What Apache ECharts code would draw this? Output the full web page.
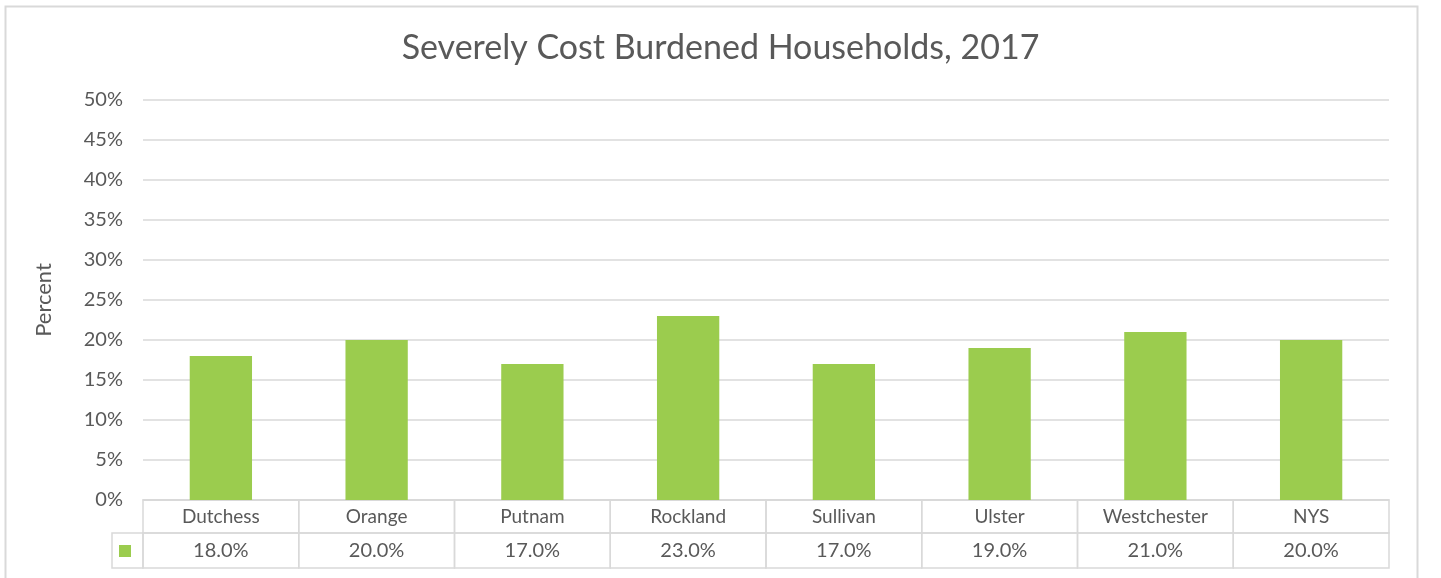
<!DOCTYPE html>
<html>
<head>
<meta charset="utf-8">
<script src="https://cdn.jsdelivr.net/npm/echarts@6/dist/echarts.min.js"></script>
<style>
html,body{margin:0;padding:0;background:#fff;}
#c{width:1441px;height:578px;}
</style>
</head>
<body>
<div id="c"></div>
<script>
const categories = ["Dutchess", "Orange", "Putnam", "Rockland", "Sullivan", "Ulster", "Westchester", "NYS"];
const values = [18.0, 20.0, 17.0, 23.0, 17.0, 19.0, 21.0, 20.0];
const yTicks = [0, 5, 10, 15, 20, 25, 30, 35, 40, 45, 50];
const seriesName = "Severely Cost Burdened Households";
const titleText = "Severely Cost Burdened Households, 2017";

const FONT = "Lato";
const TXT = "#595959";
const LINE = "#d9d9d9";
const GREEN = "#9BCC4E";
const gridLeft = 143, gridRight = 52, gridTop = 100, gridBottom = 78;
const catW = (1441 - gridLeft - gridRight) / categories.length;
const rowH = 33;

const chart = echarts.init(document.getElementById('c'), null, {renderer: 'canvas'});
chart.setOption({
  animation: false,
  backgroundColor: '#fff',
  title: {
    text: titleText,
    left: 'center',
    top: 26,
    textStyle: {fontFamily: FONT, fontSize: 34, fontWeight: 'normal', color: TXT}
  },
  legend: {
    show: true,
    data: [seriesName],
    left: 119,
    top: 545,
    padding: 0,
    icon: 'rect',
    itemWidth: 12,
    itemHeight: 12,
    formatter: () => '',
    itemGap: 0
  },
  grid: {left: gridLeft, right: gridRight, top: gridTop, bottom: gridBottom, containLabel: false},
  xAxis: [{
    type: 'category',
    data: categories,
    position: 'bottom',
    axisLine: {show: true, lineStyle: {color: LINE, width: 1.5}},
    axisTick: {show: false},
    axisLabel: {
      margin: 0,
      interval: 0,
      fontFamily: FONT, fontSize: 19, color: TXT,
      width: catW, height: rowH, lineHeight: rowH,
      align: 'center', verticalAlign: 'top',
      borderColor: LINE, borderWidth: 1.5
    }
  }, {
    type: 'category',
    data: categories,
    position: 'bottom',
    offset: rowH,
    axisLine: {show: false},
    axisTick: {show: false},
    axisLabel: {
      margin: 0,
      interval: 0,
      fontFamily: FONT, fontSize: 20, color: TXT,
      width: catW, height: rowH + 2, lineHeight: rowH + 2,
      align: 'center', verticalAlign: 'top',
      borderColor: LINE, borderWidth: 1.5,
      formatter: (v, i) => values[i].toFixed(1) + '%'
    }
  }],
  yAxis: {
    type: 'value',
    min: yTicks[0],
    max: yTicks[yTicks.length - 1],
    interval: yTicks[1] - yTicks[0],
    name: 'Percent',
    nameLocation: 'middle',
    nameGap: 88,
    nameRotate: 90,
    nameTextStyle: {fontFamily: FONT, fontSize: 22, color: TXT},
    axisLine: {show: false},
    axisTick: {show: false},
    axisLabel: {margin: 20, fontFamily: FONT, fontSize: 20, color: TXT, formatter: v => v + '%'},
    splitLine: {lineStyle: {color: LINE, width: 1.5}}
  },
  series: [{
    name: seriesName,
    type: 'bar',
    xAxisIndex: 0,
    data: values,
    barWidth: '40%',
    itemStyle: {color: GREEN}
  }],
  graphic: [{
    type: 'rect',
    shape: {x: 5.5, y: 6.5, width: 1412, height: 600},
    style: {fill: 'none', stroke: LINE, lineWidth: 2},
    silent: true, z: -1
  }, {
    type: 'rect',
    shape: {x: 112, y: 533, width: 31, height: 35},
    style: {fill: 'none', stroke: LINE, lineWidth: 1.5},
    silent: true
  }]
});
</script>
</body>
</html>
